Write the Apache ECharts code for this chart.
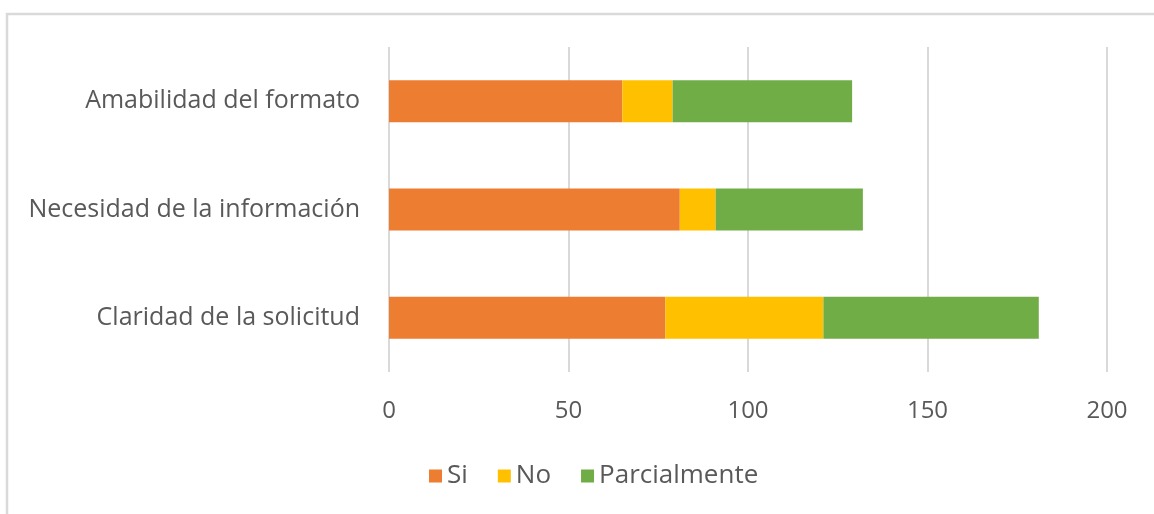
<!DOCTYPE html>
<html><head><meta charset="utf-8">
<script src="https://cdn.jsdelivr.net/npm/echarts@6/dist/echarts.min.js"></script>
<style>html,body{margin:0;padding:0;background:#fff}#c{width:1154px;height:514px}</style>
</head><body><div id="c"></div>
<script>
const categories = ['Claridad de la solicitud', 'Necesidad de la información', 'Amabilidad del formato'];
const si = [77, 81, 65];
const no = [44, 10, 14];
const parcialmente = [60, 41, 50];
const xTicks = [0, 50, 100, 150, 200];
const seriesNames = ['Si', 'No', 'Parcialmente'];
const colors = ['#ED7D31', '#FFC000', '#70AD47'];

const font = 'Open Sans';
const chart = echarts.init(document.getElementById('c'));
chart.setOption({
  animation: false,
  color: colors,
  graphic: [{
    type: 'rect', silent: true,
    shape: { x: 7, y: 14, width: 1300, height: 700 },
    style: { fill: 'none', stroke: '#d9d9d9', lineWidth: 2.5 }
  }],
  grid: { left: 389, right: 47, top: 47, bottom: 142, containLabel: false },
  legend: {
    data: seriesNames, top: 458, left: 424,
    itemWidth: 13, itemHeight: 13, itemGap: 30, icon: 'rect',
    textStyle: { color: '#595959', fontSize: 26, fontFamily: font, padding: [0, 0, 0, 0] }
  },
  xAxis: {
    type: 'value', min: xTicks[0], max: xTicks[xTicks.length - 1], interval: 50,
    axisLine: { show: false }, axisTick: { show: false },
    splitLine: { lineStyle: { color: '#d9d9d9', width: 2 } },
    axisLabel: { color: '#595959', fontSize: 24, fontFamily: font, margin: 27 }
  },
  yAxis: {
    type: 'category', data: categories,
    axisLine: { show: false }, axisTick: { show: false },
    axisLabel: { color: '#595959', fontSize: 25, fontFamily: font, margin: 29 }
  },
  series: [
    { name: seriesNames[0], type: 'bar', stack: 't', data: si, barWidth: 42 },
    { name: seriesNames[1], type: 'bar', stack: 't', data: no, barWidth: 42 },
    { name: seriesNames[2], type: 'bar', stack: 't', data: parcialmente, barWidth: 42 }
  ]
});
</script></body></html>
